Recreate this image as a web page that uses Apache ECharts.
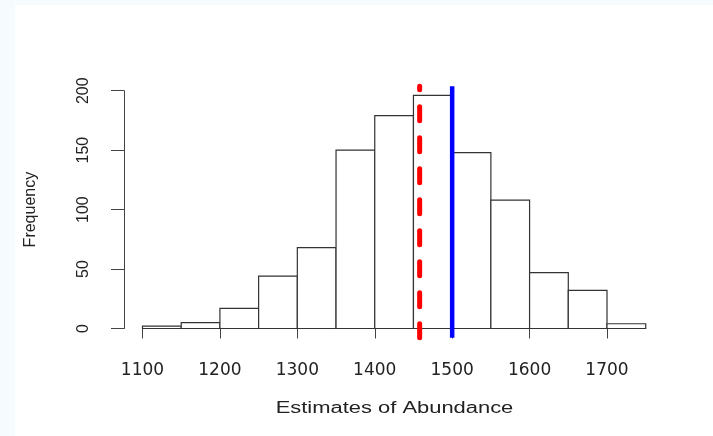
<!DOCTYPE html>
<html>
<head>
<meta charset="utf-8">
<script src="https://cdn.jsdelivr.net/npm/echarts@6/dist/echarts.min.js"></script>
<style>
  body { margin: 0; background: #f6fcfe; }
  #main { position: absolute; left: 15px; top: 5px; width: 698px; height: 431px; background: #fff; }
</style>
</head>
<body>
<div id="main"></div>
<script>
// histogram bins (left edge) and counts, bin width 50
const binStarts = [1100, 1150, 1200, 1250, 1300, 1350, 1400, 1450, 1500, 1550, 1600, 1650, 1700]
const counts = [2, 5, 17, 44, 68, 150, 179, 196, 148, 108, 47, 32, 4]
const binWidth = 50
const meanEstimate = 1458 // red dashed line
const trueValue = 1500 // blue line
const xTicks = [1100, 1200, 1300, 1400, 1500, 1600, 1700]
const yTicks = [0, 50, 100, 150, 200]

const maxCount = Math.max(...counts)
// plot region like R: 4% extension of the data range
const yLow = -maxCount * 0.04
const yHigh = maxCount * 1.04

const chart = echarts.init(document.getElementById('main'))

const vline = (value, color, width, dash) => ({
  type: 'custom',
  clip: false,
  silent: true,
  data: [[value]],
  renderItem: function(params, api) {
    // drawn bottom -> top so the dash pattern starts at the x axis
    const p1 = api.coord([api.value(0), yLow])
    const p2 = api.coord([api.value(0), yHigh])
    return {
      type: 'line',
      shape: { x1: p1[0], y1: p1[1], x2: p2[0], y2: p2[1] },
      style: { stroke: color, lineWidth: width, lineDash: dash, lineCap: dash ? 'round' : 'butt' },
    }
  },
})

chart.setOption({
  animation: false,
  backgroundColor: '#fff',
  textStyle: { fontFamily: 'Liberation Sans' },
  grid: {
    left: 126,
    right: 106,
    top: 85.7,
    bottom: 107.5,
  },
  xAxis: {
    type: 'value',
    min: xTicks[0],
    max: xTicks[xTicks.length - 1],
    interval: 100,
    offset: 9,
    axisLine: { show: true, lineStyle: { color: '#444', width: 1 } },
    axisTick: { show: true, length: 10, lineStyle: { color: '#444' } },
    splitLine: { show: false },
    axisLabel: {
      margin: 25,
      fontSize: 17,
      fontFamily: 'DejaVu Sans',
      color: '#222',
      showMinLabel: true,
      showMaxLabel: true,
      formatter: function(value) {
        return String(value)
      },
    },
  },
  yAxis: {
    type: 'value',
    min: yTicks[0],
    max: yTicks[yTicks.length - 1],
    interval: 50,
    offset: 18.5,
    name: 'Frequency',
    nameLocation: 'middle',
    nameRotate: 90,
    nameGap: 85,
    nameTextStyle: { fontSize: 16, color: '#222', fontFamily: 'Liberation Sans' },
    axisLine: { show: true, lineStyle: { color: '#444', width: 1 } },
    axisTick: { show: true, length: 13, lineStyle: { color: '#444' } },
    splitLine: { show: false },
    axisLabel: {
      rotate: 90,
      margin: 32,
      fontSize: 16,
      color: '#222',
    },
  },
  graphic: [
    {
      type: 'text',
      x: 379.5,
      y: 403.5,
      scaleX: 1.37,
      style: {
        text: 'Estimates of Abundance',
        fontSize: 16,
        fontFamily: 'Liberation Sans',
        fill: '#222',
        align: 'center',
        verticalAlign: 'middle',
      },
    },
  ],
  series: [
    {
      type: 'custom',
      clip: false,
      silent: true,
      data: binStarts.map((s, i) => [s, s + binWidth, counts[i]]),
      renderItem: function(params, api) {
        const topLeft = api.coord([api.value(0), api.value(2)])
        const bottomRight = api.coord([api.value(1), 0])
        return {
          type: 'rect',
          shape: {
            x: topLeft[0],
            y: topLeft[1],
            width: bottomRight[0] - topLeft[0],
            height: bottomRight[1] - topLeft[1],
          },
          style: { fill: '#fff', stroke: '#333', lineWidth: 1.2 },
        }
      },
    },
    vline(meanEstimate, '#ff0000', 5, [14, 17]),
    vline(trueValue, '#0000ff', 4.5, null),
  ],
})
</script>
</body>
</html>
